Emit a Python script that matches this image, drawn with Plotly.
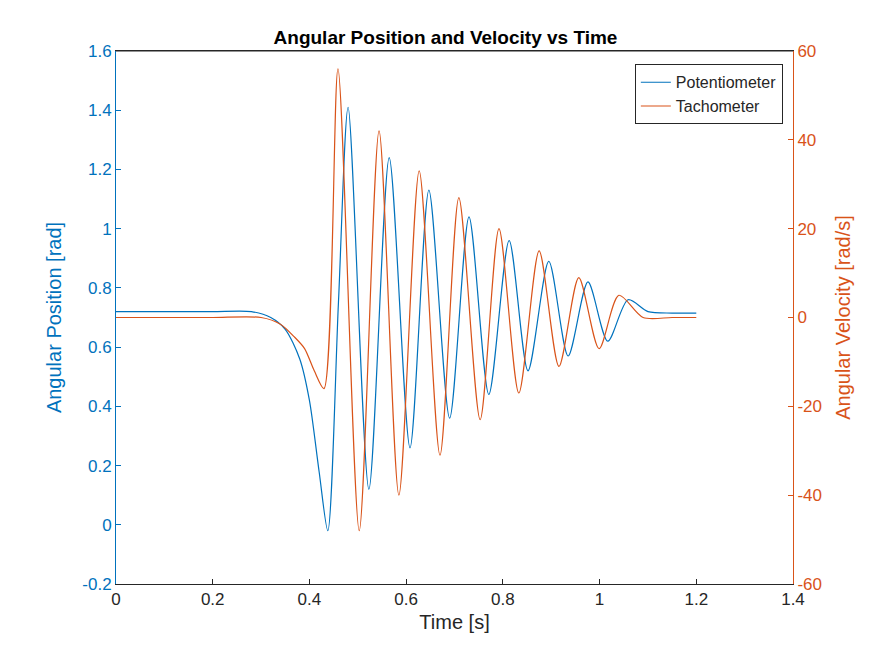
import plotly.graph_objects as go

# Potentiometer (angular position, rad) - key points
pot_t = [0.0, 0.1, 0.2, 0.28, 0.32, 0.35, 0.38, 0.40, 0.42, 0.438, 0.46, 0.48,
         0.523, 0.565, 0.608, 0.647, 0.69, 0.73, 0.771, 0.813, 0.852, 0.895,
         0.935, 0.976, 1.017, 1.059, 1.1, 1.15, 1.2]
pot_v = [0.72, 0.72, 0.72, 0.72, 0.70, 0.66, 0.56, 0.42, 0.18, -0.02, 0.75, 1.41,
         0.12, 1.24, 0.26, 1.13, 0.36, 1.04, 0.44, 0.96, 0.52, 0.89,
         0.57, 0.82, 0.62, 0.76, 0.72, 0.715, 0.715]

# Tachometer (angular velocity, rad/s)
tach_t = [0.0, 0.1, 0.2, 0.3, 0.34, 0.37, 0.39, 0.41, 0.43, 0.459, 0.503, 0.544,
          0.585, 0.627, 0.67, 0.709, 0.753, 0.792, 0.833, 0.875, 0.916, 0.957,
          0.999, 1.04, 1.09, 1.15, 1.2]
tach_v = [0.0, 0.0, 0.0, 0.0, -1.5, -4.5, -7, -12, -16, 56, -48, 42,
          -40, 33, -31, 27, -23, 20, -17, 15, -11, 9,
          -7, 5, 0, 0, 0]

# tick labels (MATLAB style, hyphen minus)
y1_ticks = [-0.2, 0, 0.2, 0.4, 0.6, 0.8, 1, 1.2, 1.4, 1.6]
y1_labels = ["-0.2", "0", "0.2", "0.4", "0.6", "0.8", "1", "1.2", "1.4", "1.6"]
y2_ticks = [-60, -40, -20, 0, 20, 40, 60]
y2_labels = ["-60", "-40", "-20", "0", "20", "40", "60"]

blue = "#0072BD"
orange = "#D95319"

fig = go.Figure()
fig.add_trace(go.Scatter(x=pot_t, y=pot_v, name="Potentiometer", mode="lines",
                         line=dict(color=blue, width=1.2, shape="spline", smoothing=0.8)))
fig.add_trace(go.Scatter(x=tach_t, y=tach_v, name="Tachometer", mode="lines", yaxis="y2",
                         line=dict(color=orange, width=1.2, shape="spline", smoothing=0.8)))

axis_common = dict(showgrid=False, zeroline=False, ticks="inside", ticklen=5,
                   showline=True, linewidth=1)
fig.update_layout(
    width=875, height=656, plot_bgcolor="white", paper_bgcolor="white",
    margin=dict(l=108, r=90, t=43, b=80),
    font=dict(family="Liberation Sans, Arial", size=17, color="#262626"),
    title=dict(text="<b>Angular Position and Velocity vs Time</b>", x=0.5, y=0.965,
               xanchor="center", font=dict(size=19, color="black")),
    xaxis=dict(range=[0, 1.4], dtick=0.2, title=dict(text="Time [s]", standoff=6),
               linecolor="#262626", tickcolor="#262626", mirror=True, **axis_common),
    yaxis=dict(range=[-0.2, 1.6], tickvals=y1_ticks, ticktext=y1_labels,
               title=dict(text="Angular Position [rad]", font=dict(color=blue)),
               tickfont=dict(color=blue), linecolor=blue, tickcolor=blue, **axis_common),
    yaxis2=dict(range=[-60, 60], tickvals=y2_ticks, ticktext=y2_labels,
                overlaying="y", side="right",
                title=dict(text="Angular Velocity [rad/s]", font=dict(color=orange)),
                tickfont=dict(color=orange), linecolor=orange, tickcolor=orange, **axis_common),
    legend=dict(x=0.985, y=0.975, xanchor="right", yanchor="top", bgcolor="white",
                bordercolor="#262626", borderwidth=1, font=dict(size=16)),
)
fig.add_shape(type="line", xref="paper", yref="paper", x0=0, x1=1, y0=1, y1=1,
              line=dict(color="#262626", width=1))

fig.write_html("out.html")
